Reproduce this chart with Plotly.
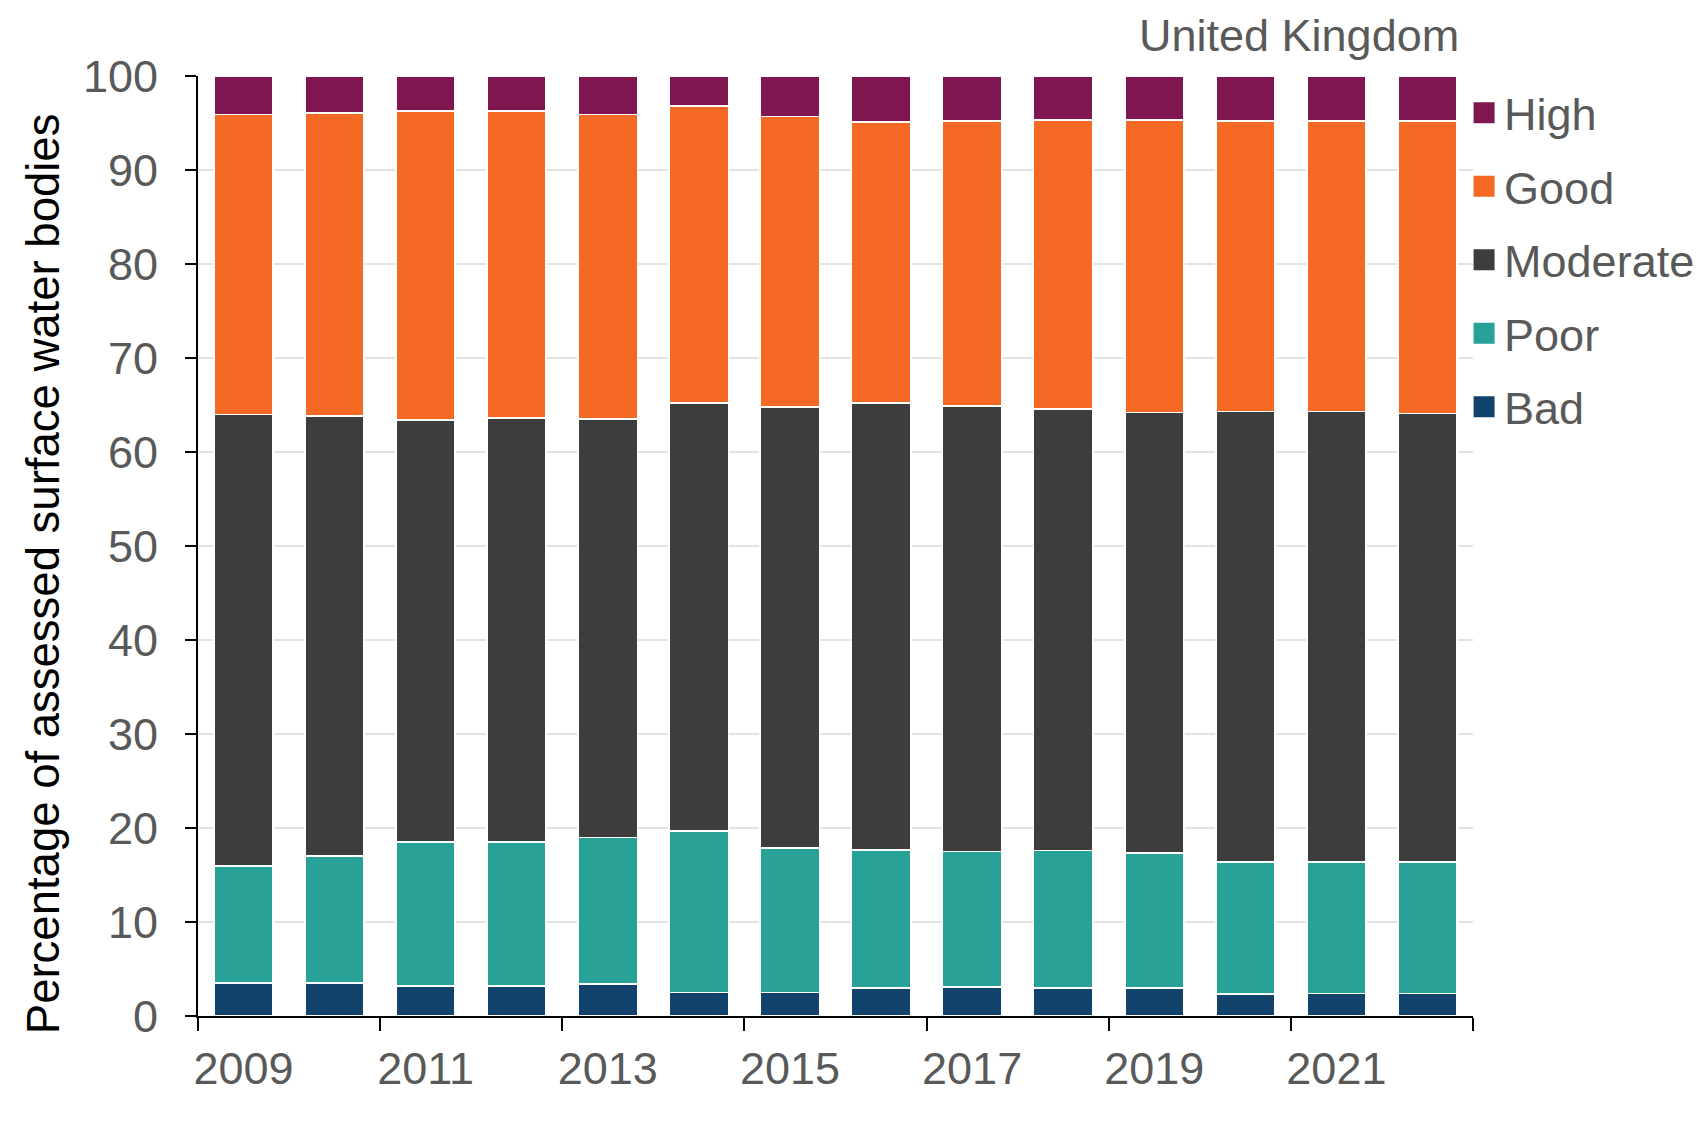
import plotly.graph_objects as go

years = [str(y) for y in range(2009, 2023)]
categories = ["Bad", "Poor", "Moderate", "Good", "High"]
bad = [3.5, 3.5, 3.2, 3.2, 3.4, 2.5, 2.5, 3.0, 3.1, 3.0, 3.0, 2.3, 2.4, 2.4]
poor = [12.5, 13.5, 15.3, 15.3, 15.6, 17.2, 15.4, 14.7, 14.4, 14.6, 14.3, 14.1, 14.0, 14.0]
moderate = [48.0, 46.8, 44.9, 45.1, 44.5, 45.5, 46.9, 47.5, 47.4, 47.0, 46.9, 47.9, 47.9, 47.7]
good = [31.9, 32.3, 32.9, 32.7, 32.4, 31.6, 30.9, 29.9, 30.3, 30.7, 31.1, 30.9, 30.9, 31.1]
high = [4.1, 3.9, 3.7, 3.7, 4.1, 3.2, 4.3, 4.9, 4.8, 4.7, 4.7, 4.8, 4.8, 4.8]
series = [bad, poor, moderate, good, high]
colors = ["#12436D", "#28A197", "#3D3D3D", "#F46A25", "#801650"]

FONT = "Liberation Sans, Arial, sans-serif"
GREY = "#595959"

fig = go.Figure()
for name, vals, col in zip(categories, series, colors):
    fig.add_trace(go.Bar(
        x=years, y=vals, name=name, showlegend=False,
        marker=dict(color=col, line=dict(color="white", width=1.8)),
    ))
# legend entries (High at top) with bigger square symbols
for name, col in reversed(list(zip(categories, colors))):
    fig.add_trace(go.Scatter(
        x=[None], y=[None], mode="markers", name=name, legendgroup=name,
        marker=dict(symbol="square", size=16, color=col, line=dict(color=col, width=5)),
    ))

fig.update_layout(
    width=1707, height=1142,
    barmode="stack", bargap=0.35,
    plot_bgcolor="white", paper_bgcolor="white",
    margin=dict(l=190, r=242, t=68, b=134, autoexpand=False),
    font=dict(family=FONT, size=45, color=GREY),
    legend=dict(
        x=0.993, xanchor="left", y=0.999, yanchor="top",
        traceorder="grouped", tracegroupgap=12,
        font=dict(family=FONT, size=45, color=GREY),
        bgcolor="rgba(0,0,0,0)",
    ),
    xaxis=dict(
        type="category", tickmode="linear", tick0=0, dtick=2, tickangle=0,
        tickson="boundaries", ticks="outside", ticklen=13, tickwidth=2, tickcolor="black",
        showline=True, linecolor="black", linewidth=2, showgrid=False, automargin=False,
        tickfont=dict(family=FONT, size=45, color=GREY), ticklabelstandoff=12,
        range=[-0.5, 13.5],
    ),
    yaxis=dict(
        range=[0, 100], dtick=10, ticks="outside", ticklen=11, tickwidth=2, tickcolor="black",
        showline=True, linecolor="black", linewidth=2, automargin=False,
        showgrid=True, gridcolor="#e3e3e3", gridwidth=1.5, zeroline=False,
        tickfont=dict(family=FONT, size=45, color=GREY), ticklabelstandoff=18,
    ),
    annotations=[
        dict(text="Percentage of assessed surface water bodies", textangle=-90,
             xref="paper", yref="paper", x=-0.1216, y=0.471,
             xanchor="center", yanchor="middle", showarrow=False,
             font=dict(family=FONT, size=45.5, color="black")),
        dict(text="United Kingdom", xref="paper", yref="paper", x=0.9905, y=1.0426,
             xanchor="right", yanchor="middle", showarrow=False,
             font=dict(family=FONT, size=45, color=GREY)),
    ],
)

fig.write_html("out.html")
